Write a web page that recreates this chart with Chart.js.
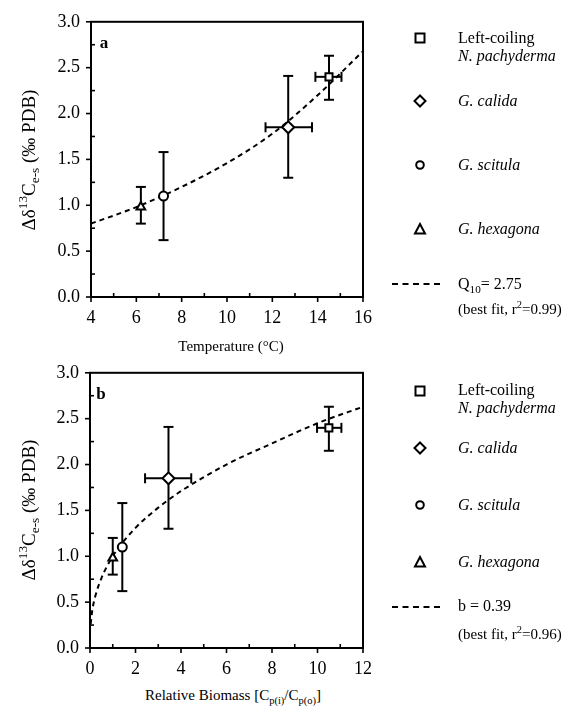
<!DOCTYPE html>
<html>
<head>
<meta charset="utf-8">
<script src="https://cdn.jsdelivr.net/npm/chart.js@4/dist/chart.umd.min.js"></script>
<style>
  html, body { margin: 0; padding: 0; background: #fff; }
  body { width: 578px; height: 711px; position: relative; overflow: hidden; font-family: 'Liberation Serif', 'DejaVu Serif', serif; color: #000; }
  .abs { position: absolute; white-space: nowrap; line-height: 1; }
  .chartbox { position: absolute; left: 0; width: 578px; height: 330px; }
  .ytitle { font-size: 19px; transform: translate(-50%, -50%) rotate(-90deg); }
  .xtitle { font-size: 15px; transform: translate(-50%, -50%); }
  .leg { font-size: 16px; transform: translateY(-50%); }
  .mk { position: absolute; transform: translate(-50%, -50%); }
  sub, sup { font-size: 70%; line-height: 0; }
  i { font-style: italic; }
  .panel { font-size: 17px; font-weight: bold; transform: translate(-50%, -50%); }
</style>
</head>
<body>

<div class="chartbox" style="top:0px"><canvas id="chartA" width="578" height="330"></canvas></div>
<div class="chartbox" style="top:351px"><canvas id="chartB" width="578" height="330"></canvas></div>

<!-- panel labels -->
<div class="abs panel" style="left:104px; top:42px;">a</div>
<div class="abs panel" style="left:101px; top:393px;">b</div>

<!-- axis titles -->
<div class="abs ytitle" style="left:28px; top:160px;">&Delta;&delta;<sup>13</sup>C<sub>e-s</sub> (&permil; PDB)</div>
<div class="abs ytitle" style="left:28px; top:510px;">&Delta;&delta;<sup>13</sup>C<sub>e-s</sub> (&permil; PDB)</div>
<div class="abs xtitle" style="left:231px; top:346px;">Temperature (&deg;C)</div>
<div class="abs xtitle" style="left:233px; top:695px;">Relative Biomass [C<sub>p(i)</sub>/C<sub>p(o)</sub>]</div>

<!-- legend a -->
<svg class="mk" style="left:420px; top:38px;" width="14" height="14"><rect x="2.5" y="2.5" width="9" height="9" fill="#fff" stroke="#000" stroke-width="2"/></svg>
<div class="abs leg" style="left:458px; top:38px;">Left-coiling</div>
<div class="abs leg" style="left:458px; top:56px;"><i>N. pachyderma</i></div>
<svg class="mk" style="left:420px; top:101px;" width="14" height="14"><polygon points="7,1.5 12.5,7 7,12.5 1.5,7" fill="#fff" stroke="#000" stroke-width="2"/></svg>
<div class="abs leg" style="left:458px; top:101px;"><i>G. calida</i></div>
<svg class="mk" style="left:420px; top:165px;" width="14" height="14"><circle cx="7" cy="7" r="3.8" fill="#fff" stroke="#000" stroke-width="2"/></svg>
<div class="abs leg" style="left:458px; top:165px;"><i>G. scitula</i></div>
<svg class="mk" style="left:420px; top:229px;" width="14" height="14"><polygon points="7,2 12,11.5 2,11.5" fill="#fff" stroke="#000" stroke-width="2"/></svg>
<div class="abs leg" style="left:458px; top:229px;"><i>G. hexagona</i></div>
<div class="abs" style="left:392px; top:283px; width:48px; border-top:2px dashed #000;"></div>
<div class="abs leg" style="left:458px; top:284px;">Q<sub>10</sub>= 2.75</div>
<div class="abs leg" style="left:458px; top:309px; font-size:15px;">(best fit, r<sup>2</sup>=0.99)</div>

<!-- legend b -->
<svg class="mk" style="left:420px; top:391px;" width="14" height="14"><rect x="2.5" y="2.5" width="9" height="9" fill="#fff" stroke="#000" stroke-width="2"/></svg>
<div class="abs leg" style="left:458px; top:390px;">Left-coiling</div>
<div class="abs leg" style="left:458px; top:408px;"><i>N. pachyderma</i></div>
<svg class="mk" style="left:420px; top:448px;" width="14" height="14"><polygon points="7,1.5 12.5,7 7,12.5 1.5,7" fill="#fff" stroke="#000" stroke-width="2"/></svg>
<div class="abs leg" style="left:458px; top:448px;"><i>G. calida</i></div>
<svg class="mk" style="left:420px; top:505px;" width="14" height="14"><circle cx="7" cy="7" r="3.8" fill="#fff" stroke="#000" stroke-width="2"/></svg>
<div class="abs leg" style="left:458px; top:505px;"><i>G. scitula</i></div>
<svg class="mk" style="left:420px; top:562px;" width="14" height="14"><polygon points="7,2 12,11.5 2,11.5" fill="#fff" stroke="#000" stroke-width="2"/></svg>
<div class="abs leg" style="left:458px; top:562px;"><i>G. hexagona</i></div>
<div class="abs" style="left:392px; top:606px; width:48px; border-top:2px dashed #000;"></div>
<div class="abs leg" style="left:458px; top:606px;">b = 0.39</div>
<div class="abs leg" style="left:458px; top:634px; font-size:15px;">(best fit, r<sup>2</sup>=0.96)</div>

<script>
// ---------- data ----------
// species order: G. hexagona, G. scitula, G. calida, left-coiling N. pachyderma
const speciesNames = ['G. hexagona', 'G. scitula', 'G. calida', 'Left-coiling N. pachyderma'];
const speciesStyles = ['triangle', 'circle', 'rectRot', 'rect'];
const speciesRadius = [5, 4.5, 6, 5];

const deltaY     = [0.98, 1.10, 1.85, 2.40];
const deltaYLow  = [0.80, 0.62, 1.30, 2.15];
const deltaYHigh = [1.20, 1.58, 2.41, 2.63];

const tempX      = [6.2, 7.2, 12.7, 14.5];
const tempXLow   = [null, null, 11.7, 13.9];
const tempXHigh  = [null, null, 13.75, 15.05];

const biomassX     = [1.0, 1.42, 3.45, 10.5];
const biomassXLow  = [null, null, 2.42, 9.98];
const biomassXHigh = [null, null, 4.45, 11.05];

// best-fit curves
const fitTempX = [4, 6, 8, 10, 12, 14, 16];
const fitTempY = [0.80, 0.98, 1.20, 1.46, 1.78, 2.20, 2.68];
const fitBioX  = [0.03, 0.1, 0.25, 0.5, 1, 2, 3, 4, 6, 8, 10, 12];
const fitBioY  = [0.26, 0.41, 0.58, 0.76, 1.00, 1.31, 1.53, 1.71, 2.00, 2.23, 2.45, 2.63];

// ticks
const yTickValues = [0, 0.5, 1.0, 1.5, 2.0, 2.5, 3.0];
const yTickLabels = ['0.0', '0.5', '1.0', '1.5', '2.0', '2.5', '3.0'];
const yMinorTicks = [0.25, 0.75, 1.25, 1.75, 2.25, 2.75];
const tempTickValues = [4, 6, 8, 10, 12, 14, 16];
const tempTickLabels = ['4', '6', '8', '10', '12', '14', '16'];
const tempMinorTicks = [5, 7, 9, 11, 13, 15];
const bioTickValues = [0, 2, 4, 6, 8, 10, 12];
const bioTickLabels = ['0', '2', '4', '6', '8', '10', '12'];
const bioMinorTicks = [1, 3, 5, 7, 9, 11];

// ---------- plugins ----------
const frameTicks = {
  id: 'frameTicks',
  beforeDatasetsDraw(chart, args, o) {
    const { ctx, chartArea: a, scales: { x, y } } = chart;
    ctx.save();
    ctx.strokeStyle = '#000';
    ctx.lineWidth = 2;
    ctx.strokeRect(a.left, a.top, a.right - a.left, a.bottom - a.top);
    ctx.lineWidth = 1.6;
    const seg = (x1, y1, x2, y2) => { ctx.beginPath(); ctx.moveTo(x1, y1); ctx.lineTo(x2, y2); ctx.stroke(); };
    o.xMajor.forEach(v => { const p = x.getPixelForValue(v); seg(p, a.bottom, p, a.bottom + 5); });
    o.xMinor.forEach(v => { const p = x.getPixelForValue(v); seg(p, a.bottom, p, a.bottom - 4); });
    o.yMajor.forEach(v => { const p = y.getPixelForValue(v); seg(a.left - 5, p, a.left, p); });
    o.yMinor.forEach(v => { const p = y.getPixelForValue(v); seg(a.left, p, a.left + 4, p); });
    ctx.restore();
  }
};

const errorBars = {
  id: 'errorBars',
  beforeDatasetDraw(chart, args, o) {
    if (args.index !== 0) return;
    const { ctx, scales: { x, y } } = chart;
    const cap = 5;
    ctx.save();
    ctx.strokeStyle = '#000';
    ctx.lineWidth = 2;
    const seg = (x1, y1, x2, y2) => { ctx.beginPath(); ctx.moveTo(x1, y1); ctx.lineTo(x2, y2); ctx.stroke(); };
    o.x.forEach((xv, i) => {
      const px = x.getPixelForValue(xv), py = y.getPixelForValue(o.y[i]);
      if (o.yLo[i] != null) {
        const lo = y.getPixelForValue(o.yLo[i]), hi = y.getPixelForValue(o.yHi[i]);
        seg(px, lo, px, hi);
        seg(px - cap, lo, px + cap, lo);
        seg(px - cap, hi, px + cap, hi);
      }
      if (o.xLo[i] != null) {
        const lo = x.getPixelForValue(o.xLo[i]), hi = x.getPixelForValue(o.xHi[i]);
        seg(lo, py, hi, py);
        seg(lo, py - cap, lo, py + cap);
        seg(hi, py - cap, hi, py + cap);
      }
    });
    ctx.restore();
  }
};

const tickFont = { family: "'Liberation Serif', serif", size: 18 };

function makeChart(id, xs, xLo, xHi, fitX, fitY, xMin, xMax, xTicks, xLabels, xMinor, yAxisWidth) {
  return new Chart(document.getElementById(id), {
    type: 'scatter',
    data: {
      datasets: [
        {
          label: 'species',
          data: xs.map((v, i) => ({ x: v, y: deltaY[i] })),
          pointStyle: speciesStyles,
          pointRadius: speciesRadius,
          backgroundColor: '#fff',
          borderColor: '#000',
          borderWidth: 2,
          showLine: false
        },
        {
          label: 'fit',
          data: fitX.map((v, i) => ({ x: v, y: fitY[i] })),
          showLine: true,
          borderColor: '#000',
          borderWidth: 2,
          borderDash: [5, 4],
          pointRadius: 0,
          fill: false,
          cubicInterpolationMode: 'monotone'
        }
      ]
    },
    options: {
      responsive: false,
      animation: false,
      devicePixelRatio: 1,
      layout: { padding: { left: 0, right: 215, top: 20, bottom: 0 } },
      plugins: {
        legend: { display: false },
        tooltip: { enabled: false },
        frameTicks: { xMajor: xTicks, xMinor: xMinor, yMajor: yTickValues, yMinor: yMinorTicks },
        errorBars: { x: xs, y: deltaY, yLo: deltaYLow, yHi: deltaYHigh, xLo: xLo, xHi: xHi }
      },
      scales: {
        x: {
          type: 'linear', min: xMin, max: xMax,
          grid: { display: false, drawTicks: false },
          border: { display: false },
          afterBuildTicks: s => { s.ticks = xTicks.map(v => ({ value: v })); },
          afterFit: s => { s.height = 33; },
          ticks: {
            font: tickFont, color: '#000', padding: 10, maxRotation: 0, autoSkip: false,
            callback: (v, i) => xLabels[i]
          }
        },
        y: {
          type: 'linear', min: 0, max: 3,
          grid: { display: false, drawTicks: false },
          border: { display: false },
          afterBuildTicks: s => { s.ticks = yTickValues.map(v => ({ value: v })); },
          afterFit: s => { s.width = yAxisWidth; },
          ticks: {
            font: tickFont, color: '#000', padding: 11, autoSkip: false,
            callback: (v, i) => yTickLabels[i]
          }
        }
      }
    },
    plugins: [frameTicks, errorBars]
  });
}

makeChart('chartA', tempX, tempXLow, tempXHigh, fitTempX, fitTempY, 4, 16,
          tempTickValues, tempTickLabels, tempMinorTicks, 91);
makeChart('chartB', biomassX, biomassXLow, biomassXHigh, fitBioX, fitBioY, 0, 12,
          bioTickValues, bioTickLabels, bioMinorTicks, 90);
</script>
</body>
</html>
